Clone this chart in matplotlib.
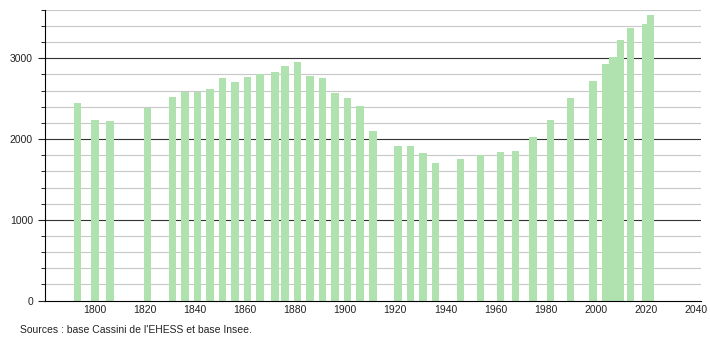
import matplotlib
matplotlib.use("Agg")
import matplotlib.pyplot as plt
from matplotlib.ticker import MultipleLocator

plt.rcParams['font.family'] = ['Liberation Sans', 'DejaVu Sans']

# population by census year
years = [1793, 1800, 1806, 1821, 1831, 1836, 1841, 1846, 1851, 1856,
         1861, 1866, 1872, 1876, 1881, 1886, 1891, 1896, 1901, 1906,
         1911, 1921, 1926, 1931, 1936, 1946, 1954, 1962, 1968, 1975,
         1982, 1990, 1999, 2004, 2007, 2010, 2014, 2020, 2022]
population = [2447, 2239, 2223, 2389, 2526, 2588, 2584, 2625, 2758, 2712,
              2771, 2800, 2833, 2899, 2958, 2775, 2758, 2572, 2509, 2406,
              2098, 1912, 1912, 1824, 1709, 1758, 1808, 1837, 1858, 2027,
              2235, 2509, 2721, 2933, 3016, 3232, 3377, 3431, 3534]
x_ticks = list(range(1800, 2041, 20))
source_text = "Sources : base Cassini de l'EHESS et base Insee."

fig = plt.figure(figsize=(7.1, 3.4), dpi=100)
ax = fig.add_axes([0.063, 0.116, 0.924, 0.855])

# grid: light every 200, dark every 1000
for v in range(200, 3601, 200):
    if v % 1000 == 0:
        ax.axhline(v, color="#333333", lw=0.8, zorder=1)
    else:
        ax.axhline(v, color="#c8c8c8", lw=0.8, zorder=1)

ax.bar(years, population, width=3.0, color="#b0e2b0", zorder=2)

ax.set_xlim(1780, 2042)
ax.set_ylim(0, 3600)
ax.set_xticks(x_ticks)
ax.yaxis.set_major_locator(MultipleLocator(1000))
ax.yaxis.set_minor_locator(MultipleLocator(200))

ax.spines['top'].set_visible(False)
ax.spines['right'].set_visible(False)
ax.spines['left'].set_color("black")
ax.spines['bottom'].set_color("black")
ax.tick_params(axis='x', length=0, labelsize=7.5, pad=3, colors="#222222")
ax.tick_params(axis='y', which='major', length=5, labelsize=7.5, colors="#222222")
ax.tick_params(axis='y', which='minor', length=3)

fig.text(0.028, 0.022, source_text, fontsize=7.5, color="#222222")

fig.savefig("out.png", dpi=100)
